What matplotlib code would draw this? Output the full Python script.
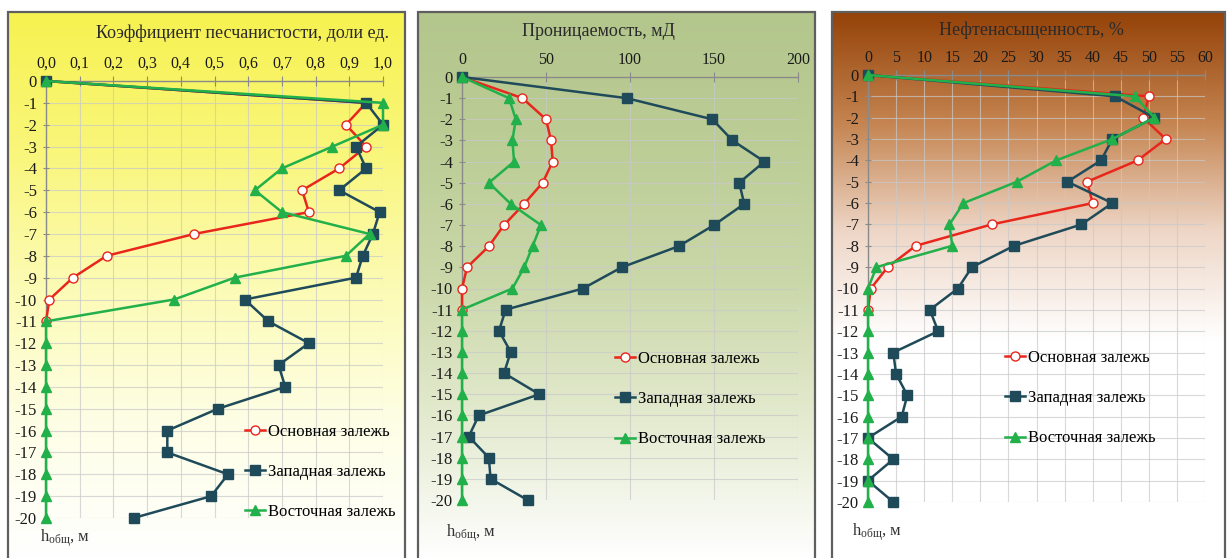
import matplotlib
matplotlib.use('Agg')
import matplotlib.pyplot as plt
import numpy as np
from matplotlib.colors import LinearSegmentedColormap
from matplotlib.patches import Rectangle

plt.rcParams['font.family'] = ['Liberation Serif', 'DejaVu Serif']
plt.rcParams['axes.unicode_minus'] = False
plt.rcParams['mathtext.fontset'] = 'custom'
plt.rcParams['mathtext.rm'] = 'Liberation Serif'
plt.rcParams['mathtext.it'] = 'Liberation Serif:italic'

nan = float('nan')

# глубина, м
depth = list(range(0, -21, -1))
series_names = ['Основная залежь', 'Западная залежь', 'Восточная залежь']

# коэффициент песчанистости, доли ед.
sand_main = [0, 0.95, 0.89, 0.95, 0.87, 0.76, 0.78, 0.44, 0.18, 0.08, 0.01,
             0, nan, nan, nan, nan, nan, nan, nan, nan, nan]
sand_west = [0, 0.95, 1.0, 0.92, 0.95, 0.87, 0.99, 0.97, 0.94, 0.92, 0.59,
             0.66, 0.78, 0.69, 0.71, 0.51, 0.36, 0.36, 0.54, 0.49, 0.26]
sand_east = [0, 1.0, 1.0, 0.85, 0.70, 0.62, 0.70, 0.96, 0.89, 0.56, 0.38,
             0, 0, 0, 0, 0, 0, 0, 0, 0, 0]
sand_ticks = [0.0, 0.1, 0.2, 0.3, 0.4, 0.5, 0.6, 0.7, 0.8, 0.9, 1.0]
sand_labels = ['0,0', '0,1', '0,2', '0,3', '0,4', '0,5', '0,6', '0,7', '0,8', '0,9', '1,0']

# проницаемость, мД
perm_main = [0, 36, 50, 53, 54, 48, 37, 25, 16, 3, 0,
             0, nan, nan, nan, nan, nan, nan, nan, nan, nan]
perm_west = [0, 98, 149, 161, 180, 165, 168, 150, 129, 95, 72,
             26, 22, 29, 25, 46, 10, 4, 16, 17, 39]
perm_east = [0, 28, 32, 30, 31, 16, 29, 47, 42, 37, 30,
             0, 0, 0, 0, 0, 0, 0, 0, 0, 0]
perm_ticks = [0, 50, 100, 150, 200]

# нефтенасыщенность, %
oil_main = [0, 50, 49, 53, 48, 39, 40, 22, 8.5, 3.5, 0.5,
            0, nan, nan, nan, nan, nan, nan, nan, nan, nan]
oil_west = [0, 44, 51, 43.5, 41.5, 35.5, 43.5, 38, 26, 18.5, 16,
            11, 12.5, 4.5, 5, 7, 6, 0, 4.5, 0, 4.5]
oil_east = [0, 47.5, 51, 43.5, 33.5, 26.5, 17, 14.5, 15, 1.5, 0,
            0, 0, 0, 0, 0, 0, 0, 0, 0, 0]
oil_ticks = [0, 5, 10, 15, 20, 25, 30, 35, 40, 45, 50, 55, 60]

W, H = 1227, 558
fig = plt.figure(figsize=(W / 100, H / 100), dpi=100)
fig.patch.set_facecolor('white')


def rect(x0, y0, x1, y1):
    return [x0 / W, 1 - y1 / H, (x1 - x0) / W, (y1 - y0) / H]


# фон панели с вертикальным градиентом
def background(box, stops):
    bg = fig.add_axes(rect(*box))
    cmap = LinearSegmentedColormap.from_list('bg', stops)
    grad = np.linspace(0, 1, 256).reshape(-1, 1)
    bg.imshow(grad, aspect='auto', cmap=cmap, extent=(0, 1, 0, 1), origin='upper')
    bg.set_xlim(0, 1)
    bg.set_ylim(0, 1)
    bg.axis('off')
    bg.add_patch(Rectangle((0, 0), 1, 1, fill=False, edgecolor='#5f5f5f',
                           linewidth=1.6, transform=bg.transAxes, clip_on=False))


def panel(box, xlim, ticks, labels, data, title, title_xy, legend_xy, hlabel_xy):
    ax = fig.add_axes(rect(*box))
    ax.set_facecolor('none')
    ax.set_xlim(*xlim)
    ax.set_ylim(-20, 0)
    ax.xaxis.tick_top()
    ax.set_xticks(ticks)
    ax.set_xticklabels(labels, fontsize=11.5, color='#1a1a1a')
    ax.set_yticks(depth)
    ax.set_yticklabels([str(d) for d in depth], fontsize=12, color='#1a1a1a')
    ax.tick_params(axis='x', direction='inout', length=7, pad=3, color='#8a8a8a')
    ax.tick_params(axis='y', direction='inout', length=5, pad=4, color='#8a8a8a')
    ax.grid(True, color='#c9c9c9', linewidth=0.8, alpha=0.7)
    ax.set_axisbelow(True)
    for side in ['right', 'bottom']:
        ax.spines[side].set_visible(False)
    for side in ['top', 'left']:
        ax.spines[side].set_color('#8a8a8a')
        ax.spines[side].set_linewidth(1.0)

    main, west, east = data
    ax.plot(main, depth, color='#e8261c', lw=1.8, marker='o', ms=6.5,
            mfc='white', mec='#e8261c', mew=1.0, clip_on=False, label=series_names[0], zorder=3)
    ax.plot(west, depth, color='#1f4a5a', lw=1.8, marker='s', ms=6.5,
            mfc='#1f4a5a', mec='#1f4a5a', clip_on=False, label=series_names[1], zorder=4)
    ax.plot(east, depth, color='#22b04b', lw=1.8, marker='^', ms=7,
            mfc='#22b04b', mec='#22b04b', clip_on=False, label=series_names[2], zorder=5)

    fig.text(title_xy[0] / W, 1 - title_xy[1] / H, title, ha='center', va='center',
             fontsize=13, color='#2a2a2a')
    ax.legend(loc='upper left', bbox_to_anchor=(legend_xy[0] / W, 1 - legend_xy[1] / H),
              bbox_transform=fig.transFigure, frameon=False, fontsize=12,
              handlelength=1.2, handletextpad=0.15, labelspacing=1.45, borderpad=0,
              borderaxespad=0)
    fig.text(hlabel_xy[0] / W, 1 - hlabel_xy[1] / H, r'h$_{\mathregular{общ}}$, м',
             ha='left', va='center', fontsize=12, color='#333333')
    return ax


background((8, 12, 405, 560), ['#f6f250', '#f9f67a', '#fcfbb4', '#fefee6', '#ffffff'])
background((418, 12, 815, 560), ['#b3c68c', '#bccd96', '#cbd8aa', '#e4ebd0', '#ffffff'])
background((832, 12, 1225, 560), ['#944208', '#c4834f', '#eed6c6', '#ffffff', '#ffffff', '#ffffff'])

panel((46, 81, 383, 518), (0, 1), sand_ticks, sand_labels,
      (sand_main, sand_west, sand_east), 'Коэффициент песчанистости, доли ед.',
      (242, 33), (245, 424), (40, 538))
panel((462, 77, 798, 500), (0, 200), perm_ticks, [str(t) for t in perm_ticks],
      (perm_main, perm_west, perm_east), 'Проницаемость, мД',
      (598, 32), (615, 351), (446, 533))
panel((868, 75, 1205, 502), (0, 60), oil_ticks, [str(t) for t in oil_ticks],
      (oil_main, oil_west, oil_east), 'Нефтенасыщенность, %',
      (1031, 30), (1005, 350), (852, 532))

fig.savefig('out.png', dpi=100)
